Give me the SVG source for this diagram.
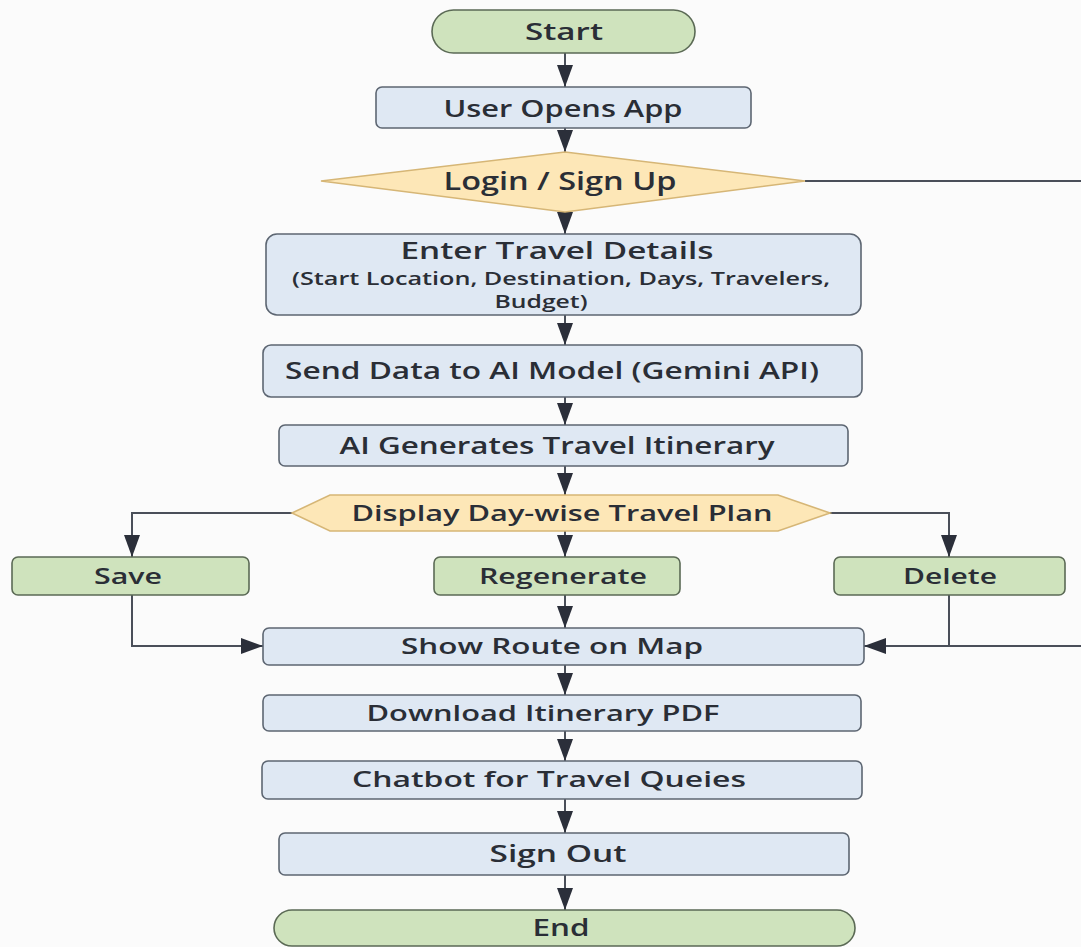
<svg xmlns="http://www.w3.org/2000/svg" width="1081" height="947" viewBox="0 0 1081 947">
<style>
.bg{fill:#fbfbfb}
.blue{fill:#dfe8f3;stroke:#5d6672;stroke-width:1.6}
.green{fill:#cfe3bd;stroke:#5b6a55;stroke-width:1.6}
.yellow{fill:#fde7b7;stroke:#d6b676;stroke-width:1.6}
.t{font-family:"Open Sans","Noto Sans","Liberation Sans",sans-serif;font-weight:600;fill:#2a2e36;text-anchor:middle}
.edge{fill:none;stroke:#4a4f59;stroke-width:2}
</style>
<defs>
<marker id="ah" markerUnits="userSpaceOnUse" markerWidth="24" markerHeight="16" refX="22" refY="8" orient="auto">
<path d="M0,0 L22,8 L0,16 Z" fill="#2b2f3a"/>
</marker>
</defs>
<rect class="bg" x="0" y="0" width="1081" height="947"/>

<g id="connectors">
<path class="edge" d="M565,53 V87" marker-end="url(#ah)"/>
<path class="edge" d="M565,128 V152" marker-end="url(#ah)"/>
<path class="edge" d="M565,212 V234" marker-end="url(#ah)"/>
<path class="edge" d="M805,181 H1081"/>
<path class="edge" d="M565,315 V345" marker-end="url(#ah)"/>
<path class="edge" d="M565,397 V425" marker-end="url(#ah)"/>
<path class="edge" d="M565,466 V495" marker-end="url(#ah)"/>
<path class="edge" d="M292,513 H132 V557" marker-end="url(#ah)"/>
<path class="edge" d="M565,531 V557" marker-end="url(#ah)"/>
<path class="edge" d="M830,513 H949 V557" marker-end="url(#ah)"/>
<path class="edge" d="M132,595 V646 H263" marker-end="url(#ah)"/>
<path class="edge" d="M565,595 V628" marker-end="url(#ah)"/>
<path class="edge" d="M949,595 V646"/>
<path class="edge" d="M1081,646 H864" marker-end="url(#ah)"/>
<path class="edge" d="M565,665 V695" marker-end="url(#ah)"/>
<path class="edge" d="M565,731 V761" marker-end="url(#ah)"/>
<path class="edge" d="M565,799 V833" marker-end="url(#ah)"/>
<path class="edge" d="M565,875 V910" marker-end="url(#ah)"/>
</g>

<g id="start">
<rect class="green" x="432" y="10" width="263" height="43" rx="21.5"/>
<text class="t" x="564" y="39.5" font-size="23" textLength="78" lengthAdjust="spacingAndGlyphs">Start</text>
</g>
<g id="open-app">
<rect class="blue" x="376" y="87" width="375" height="41" rx="6"/>
<text class="t" x="563" y="116.5" font-size="23" textLength="239" lengthAdjust="spacingAndGlyphs">User Opens App</text>
</g>
<g id="login">
<polygon class="yellow" points="565,152 805,181 565,212 321,181"/>
<text class="t" x="560" y="189.5" font-size="24.5" textLength="233" lengthAdjust="spacingAndGlyphs">Login / Sign Up</text>
</g>
<g id="enter-details">
<rect class="blue" x="266" y="234" width="595" height="81" rx="11"/>
<text class="t" x="557" y="259" font-size="22.5" textLength="313" lengthAdjust="spacingAndGlyphs">Enter Travel Details</text>
<text class="t" x="561" y="285" font-size="18" textLength="538" lengthAdjust="spacingAndGlyphs">(Start Location, Destination, Days, Travelers,</text>
<text class="t" x="541" y="308" font-size="18" textLength="93" lengthAdjust="spacingAndGlyphs">Budget)</text>
</g>
<g id="send-data">
<rect class="blue" x="263" y="345" width="599" height="52" rx="8"/>
<text class="t" x="552" y="379" font-size="24" textLength="534" lengthAdjust="spacingAndGlyphs">Send Data to AI Model (Gemini API)</text>
</g>
<g id="ai-generates">
<rect class="blue" x="279" y="425" width="569" height="41" rx="6"/>
<text class="t" x="557" y="453.5" font-size="23" textLength="435" lengthAdjust="spacingAndGlyphs">AI Generates Travel Itinerary</text>
</g>
<g id="display-plan">
<polygon class="yellow" points="292,513 330,495 778,495 830,513 778,531 330,531"/>
<text class="t" x="562" y="521" font-size="22" textLength="421" lengthAdjust="spacingAndGlyphs">Display Day-wise Travel Plan</text>
</g>
<g id="save">
<rect class="green" x="12" y="557" width="237" height="38" rx="6"/>
<text class="t" x="128" y="584" font-size="22" textLength="68" lengthAdjust="spacingAndGlyphs">Save</text>
</g>
<g id="regenerate">
<rect class="green" x="434" y="557" width="246" height="38" rx="6"/>
<text class="t" x="563" y="584" font-size="22" textLength="168" lengthAdjust="spacingAndGlyphs">Regenerate</text>
</g>
<g id="delete">
<rect class="green" x="834" y="557" width="231" height="38" rx="6"/>
<text class="t" x="950" y="584" font-size="22" textLength="94" lengthAdjust="spacingAndGlyphs">Delete</text>
</g>
<g id="show-route">
<rect class="blue" x="263" y="628" width="601" height="37" rx="6"/>
<text class="t" x="552" y="654" font-size="22" textLength="302" lengthAdjust="spacingAndGlyphs">Show Route on Map</text>
</g>
<g id="download-pdf">
<rect class="blue" x="263" y="695" width="598" height="36" rx="6"/>
<text class="t" x="543" y="721" font-size="22" textLength="353" lengthAdjust="spacingAndGlyphs">Download Itinerary PDF</text>
</g>
<g id="chatbot">
<rect class="blue" x="262" y="761" width="600" height="38" rx="6"/>
<text class="t" x="549" y="787" font-size="22" textLength="394" lengthAdjust="spacingAndGlyphs">Chatbot for Travel Queies</text>
</g>
<g id="sign-out">
<rect class="blue" x="279" y="833" width="570" height="42" rx="6"/>
<text class="t" x="558" y="861.5" font-size="23" textLength="137" lengthAdjust="spacingAndGlyphs">Sign Out</text>
</g>
<g id="end">
<rect class="green" x="274" y="910" width="581" height="36" rx="18"/>
<text class="t" x="561" y="936" font-size="22.5" textLength="57" lengthAdjust="spacingAndGlyphs">End</text>
</g>
</svg>
